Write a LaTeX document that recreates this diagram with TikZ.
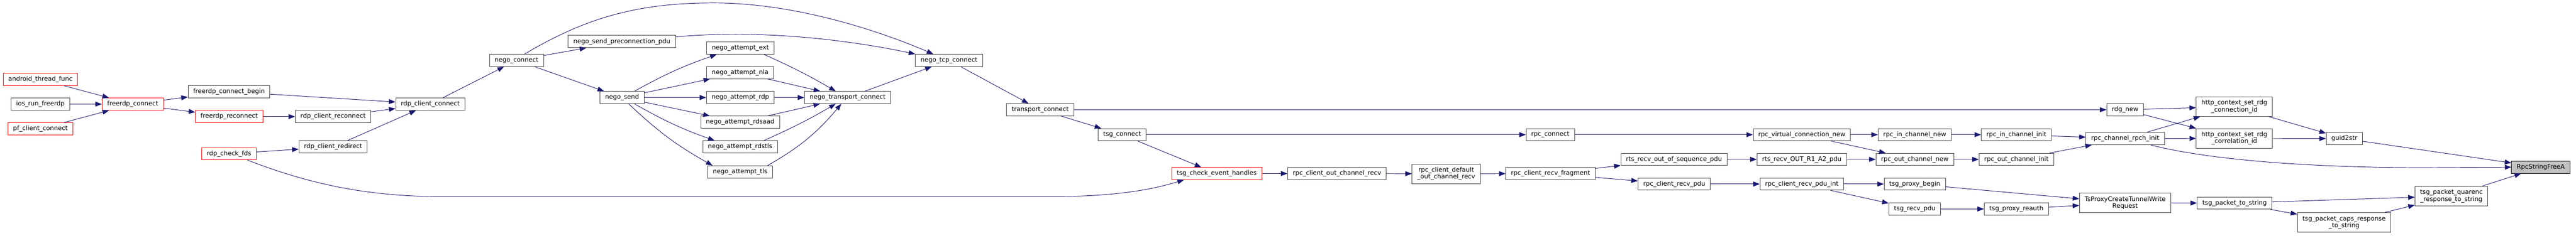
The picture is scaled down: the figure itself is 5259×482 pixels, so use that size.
\documentclass[tikz,border=0pt]{standalone}
\usepackage{fontspec}
\setmainfont{DejaVu Sans}
\usepackage{tikz}
\usetikzlibrary{arrows.meta}

\definecolor{edgeblue}{RGB}{25,25,112}
\definecolor{boxgrey}{RGB}{64,64,64}
\definecolor{rootgrey}{RGB}{191,191,191}

\tikzset{
  fn/.style={draw=boxgrey,line width=0.75pt,fill=white,inner xsep=7.9pt,inner ysep=2pt,
    minimum height=18.75pt,font=\fontsize{9.6}{10.5}\selectfont,align=center},
  fnred/.style={fn,draw=red},
  fnroot/.style={fn,draw=black,fill=rootgrey},
  tall/.style={minimum height=30pt},
  call/.style={draw=edgeblue,line width=0.75pt,-{Triangle[length=10pt,width=7.5pt]}}
}

\begin{document}
\begin{tikzpicture}[x=0.75pt,y=-0.75pt]
\useasboundingbox (0,0) rectangle (5259,482);
\node[fnred] (android) at (82.5,162.5){android\_thread\_func};
\node[fn] (ios) at (82.5,213){ios\_run\_freerdp};
\node[fnred] (pfcc) at (82.5,263.5){pf\_client\_connect};
\node[fnred] (fconn) at (271,213){freerdp\_connect};
\node[fn] (fbegin) at (467.5,187.5){freerdp\_connect\_begin};
\node[fnred] (frecon) at (468,238.5){freerdp\_reconnect};
\node[fnred] (fds) at (467.5,314.5){rdp\_check\_fds};
\node[fn] (rcrecon) at (680,238.5){rdp\_client\_reconnect};
\node[fn] (rcredir) at (680,300.5){rdp\_client\_redirect};
\node[fn] (rcconn) at (878.5,213){rdp\_client\_connect};
\node[fn] (nconn) at (1054.5,123.5){nego\_connect};
\node[fn] (npre) at (1269.5,85){nego\_send\_preconnection\_pdu};
\node[fn] (nsend) at (1270,199.5){nego\_send};
\node[fn] (next) at (1511.5,98.5){nego\_attempt\_ext};
\node[fn] (nnla) at (1511,148.5){nego\_attempt\_nla};
\node[fn] (nrdp) at (1511.5,199.5){nego\_attempt\_rdp};
\node[fn] (nrdsaad) at (1511,250){nego\_attempt\_rdsaad};
\node[fn] (nrdstls) at (1511,300.5){nego\_attempt\_rdstls};
\node[fn] (ntls) at (1511,351.5){nego\_attempt\_tls};
\node[fn] (ntrans) at (1730.5,199.5){nego\_transport\_connect};
\node[fn] (ntcp) at (1937.5,123.5){nego\_tcp\_connect};
\node[fn] (tconn) at (2123.5,224.5){transport\_connect};
\node[fn] (tsgc) at (2291,275.5){tsg\_connect};
\node[fnred] (tceh) at (2484,355){tsg\_check\_event\_handles};
\node[fn] (rcocr) at (2729.5,355){rpc\_client\_out\_channel\_recv};
\node[fn,tall] (rcdocr) at (2952.5,355.5){rpc\_client\_default\\\_out\_channel\_recv};
\node[fn] (rpcc) at (3165,275.5){rpc\_connect};
\node[fn] (rcrf) at (3165.5,355){rpc\_client\_recv\_fragment};
\node[fn] (rroos) at (3417.5,326){rts\_recv\_out\_of\_sequence\_pdu};
\node[fn] (rcrp) at (3418,376.5){rpc\_client\_recv\_pdu};
\node[fn] (rvcn) at (3678.5,275.5){rpc\_virtual\_connection\_new};
\node[fn] (rr1a2) at (3678.5,326){rts\_recv\_OUT\_R1\_A2\_pdu};
\node[fn] (rcrpi) at (3678.5,376.5){rpc\_client\_recv\_pdu\_int};
\node[fn] (ricn) at (3909,275.5){rpc\_in\_channel\_new};
\node[fn] (rocn) at (3909,326){rpc\_out\_channel\_new};
\node[fn] (tpb) at (3909,376.5){tsg\_proxy\_begin};
\node[fn] (trp) at (3909,427.5){tsg\_recv\_pdu};
\node[fn] (rici) at (4116.5,275.5){rpc\_in\_channel\_init};
\node[fn] (roci) at (4116.5,326){rpc\_out\_channel\_init};
\node[fn] (tpr) at (4116.5,427.5){tsg\_proxy\_reauth};
\node[fn] (rdgn) at (4338.5,224.5){rdg\_new};
\node[fn] (rcri) at (4338.5,283.5){rpc\_channel\_rpch\_init};
\node[fn,tall] (tpctw) at (4338.5,415){TsProxyCreateTunnelWrite\\Request};
\node[fn,tall] (hconn) at (4561.5,218){http\_context\_set\_rdg\\\_connection\_id};
\node[fn,tall] (hcorr) at (4561.5,283){http\_context\_set\_rdg\\\_correlation\_id};
\node[fn] (tpts) at (4562,415.5){tsg\_packet\_to\_string};
\node[fn,tall] (tpcaps) at (4785.5,455){tsg\_packet\_caps\_response\\\_to\_string};
\node[fn] (guid) at (4786,283.5){guid2str};
\node[fn,tall] (tpquar) at (5004.5,401){tsg\_packet\_quarenc\\\_response\_to\_string};
\node[fnroot] (rsf) at (5187,342){RpcStringFreeA};
\foreach \from/\to in {android/fconn,ios/fconn,pfcc/fconn,fconn/fbegin,fconn/frecon,
  fbegin/rcconn,frecon/rcrecon,rcrecon/rcconn,fds/rcredir,rcredir/rcconn,rcconn/nconn,
  nconn/npre,nconn/nsend,nsend/nnla,nsend/nrdp,nsend/nrdsaad,nnla/ntrans,nrdp/ntrans,
  nrdsaad/ntrans,ntrans/ntcp,ntcp/tconn,tconn/tsgc,tconn/rdgn,tsgc/rpcc,tsgc/tceh,
  tceh/rcocr,rcocr/rcdocr,rcdocr/rcrf,rpcc/rvcn,rcrf/rroos,rcrf/rcrp,rroos/rr1a2,
  rcrp/rcrpi,rvcn/ricn,rvcn/rocn,rr1a2/rocn,rcrpi/tpb,rcrpi/trp,ricn/rici,rocn/roci,
  trp/tpr,rici/rcri,roci/rcri,tpb/tpctw,tpr/tpctw,rdgn/hconn,rdgn/hcorr,rcri/hconn,
  rcri/hcorr,tpctw/tpts,tpts/tpquar,tpts/tpcaps,tpcaps/tpquar,hconn/guid,hcorr/guid,
  guid/rsf,tpquar/rsf}
	\draw[call] (\from)--(\to);
\draw[call] (nconn.38) .. controls (1199.6,33.7) and (1307,6) .. (1457,6)
  .. controls (1607,6) and (1769,52.4) .. (ntcp.158);
\draw[call] (npre.5) .. controls (1530,62) and (1700,75) .. (ntcp.north west);
\draw[call] (nsend.27) to[bend left=5] (next.195);
\draw[call] (nsend.-27) to[bend right=5] (nrdstls.166);
\draw[call] (nsend.-44) to[bend right=7] (ntls.167);
\draw[call] (next.-15) to[bend left=3] (ntrans.152);
\draw[call] (nrdstls.15) to[bend right=3] (ntrans.-152);
\draw[call] (ntls.13) to[bend right=10] (ntrans.-135);
\draw[call] (fds.-19) .. controls (640,380) and (760,402) .. (900,402) -- (2150,402)
  .. controls (2300,402) and (2370,382) .. (tceh.-169);
\draw[call] (rcri.-14) .. controls (4500,325) and (4700,343) .. (4950,343) -- (rsf.west);
\end{tikzpicture}
\end{document}
